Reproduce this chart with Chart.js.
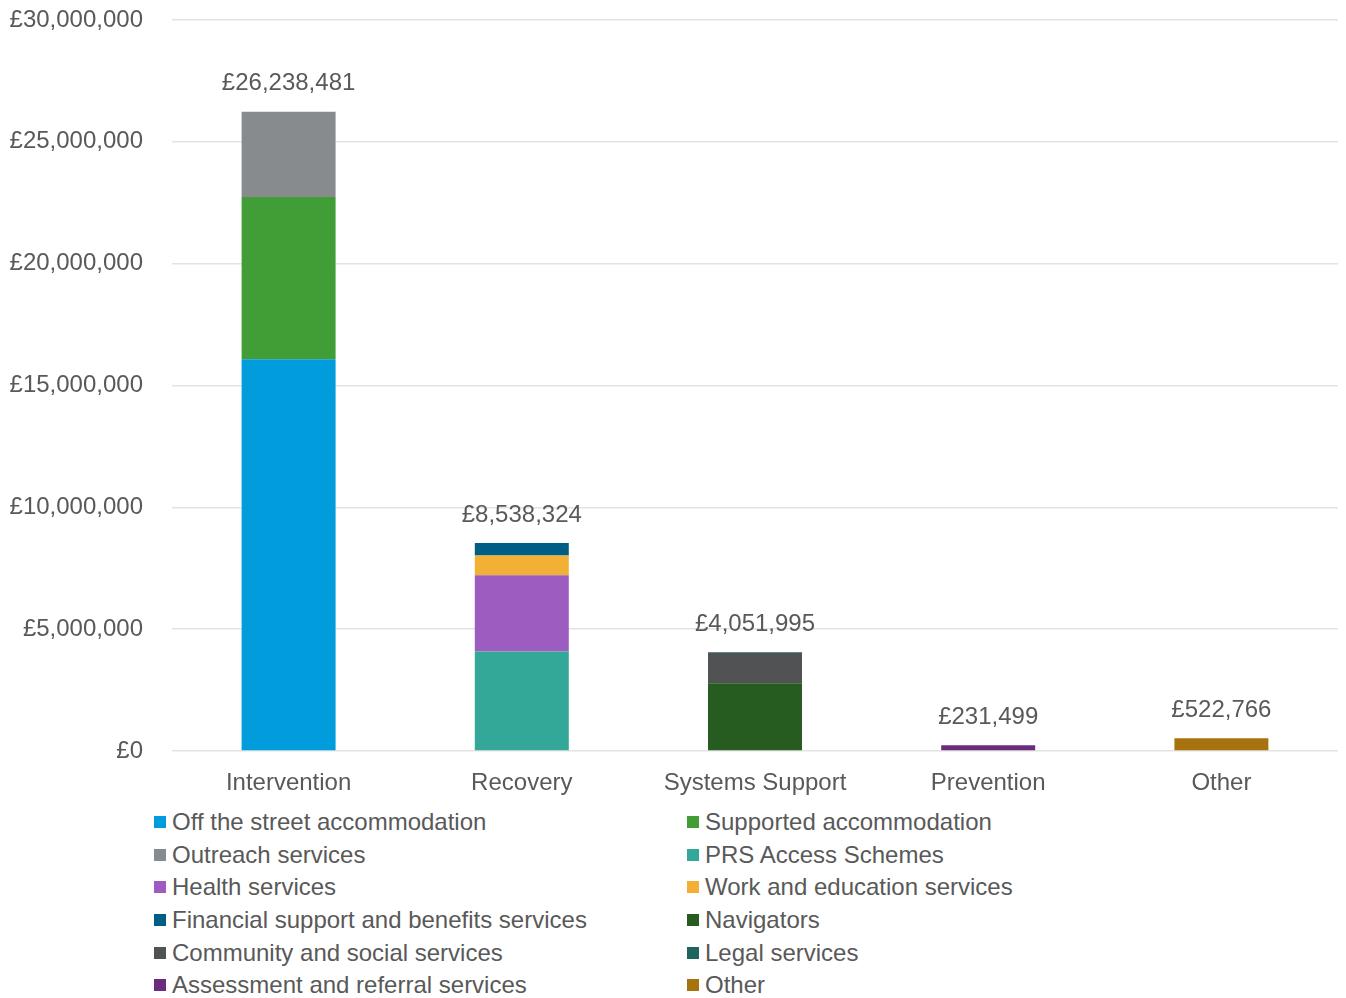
<!DOCTYPE html>
<html>
<head>
<meta charset="utf-8">
<script src="https://cdn.jsdelivr.net/npm/chart.js@4"></script>
<style>
  body { margin: 0; background: #fff; font-family: "Liberation Sans", Arial, sans-serif; }
  #wrap { position: relative; width: 1346px; height: 998px; }
  #box { position: absolute; left: 0; top: 0; width: 1346px; height: 801px; }
  #legend { position: absolute; left: 154px; top: 806px; width: 1100px;
            display: grid; grid-template-columns: 533px 500px; grid-auto-rows: 32.6px; }
  .item { display: flex; align-items: center; font-size: 24px; color: #595959; white-space: nowrap; }
  .sw { width: 12px; height: 12px; margin-right: 6px; flex: none; }
</style>
</head>
<body>
<div id="wrap">
  <div id="box"><canvas id="grafico"></canvas></div>
  <div id="legend"></div>
</div>
<script>
// categorías del eje x
const categorias = ["Intervention", "Recovery", "Systems Support", "Prevention", "Other"];

// importes por partida (uno por categoría)
const offStreet   = [16080000, 0, 0, 0, 0];
const supported   = [6660000, 0, 0, 0, 0];
const outreach    = [3498481, 0, 0, 0, 0];
const prsAccess   = [0, 4088000, 0, 0, 0];
const health      = [0, 3120000, 0, 0, 0];
const workEdu     = [0, 820000, 0, 0, 0];
const financial   = [0, 510324, 0, 0, 0];
const navigators  = [0, 0, 2785000, 0, 0];
const community   = [0, 0, 1237000, 0, 0];
const legal       = [0, 0, 29995, 0, 0];
const assessment  = [0, 0, 0, 231499, 0];
const otros       = [0, 0, 0, 0, 522766];

// marcas del eje y
const yMax = 30000000;
const yPaso = 5000000;

const series = [
  { label: "Off the street accommodation", data: offStreet, color: "#019cdc" },
  { label: "Supported accommodation", data: supported, color: "#419d35" },
  { label: "Outreach services", data: outreach, color: "#888b8d" },
  { label: "PRS Access Schemes", data: prsAccess, color: "#34a898" },
  { label: "Health services", data: health, color: "#9d5cc0" },
  { label: "Work and education services", data: workEdu, color: "#f2b135" },
  { label: "Financial support and benefits services", data: financial, color: "#005e85" },
  { label: "Navigators", data: navigators, color: "#265c20" },
  { label: "Community and social services", data: community, color: "#515254" },
  { label: "Legal services", data: legal, color: "#1e6560" },
  { label: "Assessment and referral services", data: assessment, color: "#6a2c7d" },
  { label: "Other", data: otros, color: "#a6730f" }
];

const libras = v => "£" + Number(v).toLocaleString("en-GB");
const fuente = { family: "'Liberation Sans', Arial, sans-serif", size: 24 };
const gris = "#595959";

// totales encima de cada columna
const totales = {
  id: "totales",
  afterDatasetsDraw(chart) {
    const { ctx, scales } = chart;
    ctx.save();
    ctx.font = "24px 'Liberation Sans', Arial, sans-serif";
    ctx.fillStyle = gris;
    ctx.textAlign = "center";
    ctx.textBaseline = "middle";
    categorias.forEach((c, i) => {
      const total = chart.data.datasets.reduce((s, d) => s + d.data[i], 0);
      const x = scales.x.getPixelForValue(i);
      const y = scales.y.getPixelForValue(total);
      ctx.fillText(libras(total), x, y - 28);
    });
    ctx.restore();
  }
};

const chart = new Chart(document.getElementById("grafico"), {
  type: "bar",
  data: {
    labels: categorias,
    datasets: series.map(s => ({
      label: s.label,
      data: s.data,
      backgroundColor: s.color,
      barPercentage: 0.403,
      categoryPercentage: 1
    }))
  },
  options: {
    responsive: true,
    maintainAspectRatio: false,
    animation: false,
    layout: { padding: { left: 10, right: 8, top: 20, bottom: 0 } },
    plugins: { legend: { display: false }, tooltip: { enabled: false } },
    scales: {
      x: {
        stacked: true,
        grid: { display: false, drawTicks: false },
        border: { display: false },
        ticks: { font: fuente, color: gris, padding: 18 },
        afterFit: s => { s.height = 50; }
      },
      y: {
        stacked: true,
        min: 0,
        max: yMax,
        grid: { color: "#e3e3e3", lineWidth: 1.5, drawTicks: false },
        border: { display: false },
        ticks: { stepSize: yPaso, font: fuente, color: gris, padding: 29, callback: v => libras(v) },
        afterFit: s => { s.width = 162; s.paddingTop = 0; s.paddingBottom = 0; }
      }
    }
  },
  plugins: [totales]
});

// leyenda en dos columnas
const leyenda = document.getElementById("legend");
chart.data.datasets.forEach(d => {
  const item = document.createElement("div");
  item.className = "item";
  item.innerHTML = `<span class="sw" style="background:${d.backgroundColor}"></span>${d.label}`;
  leyenda.appendChild(item);
});
</script>
</body>
</html>
